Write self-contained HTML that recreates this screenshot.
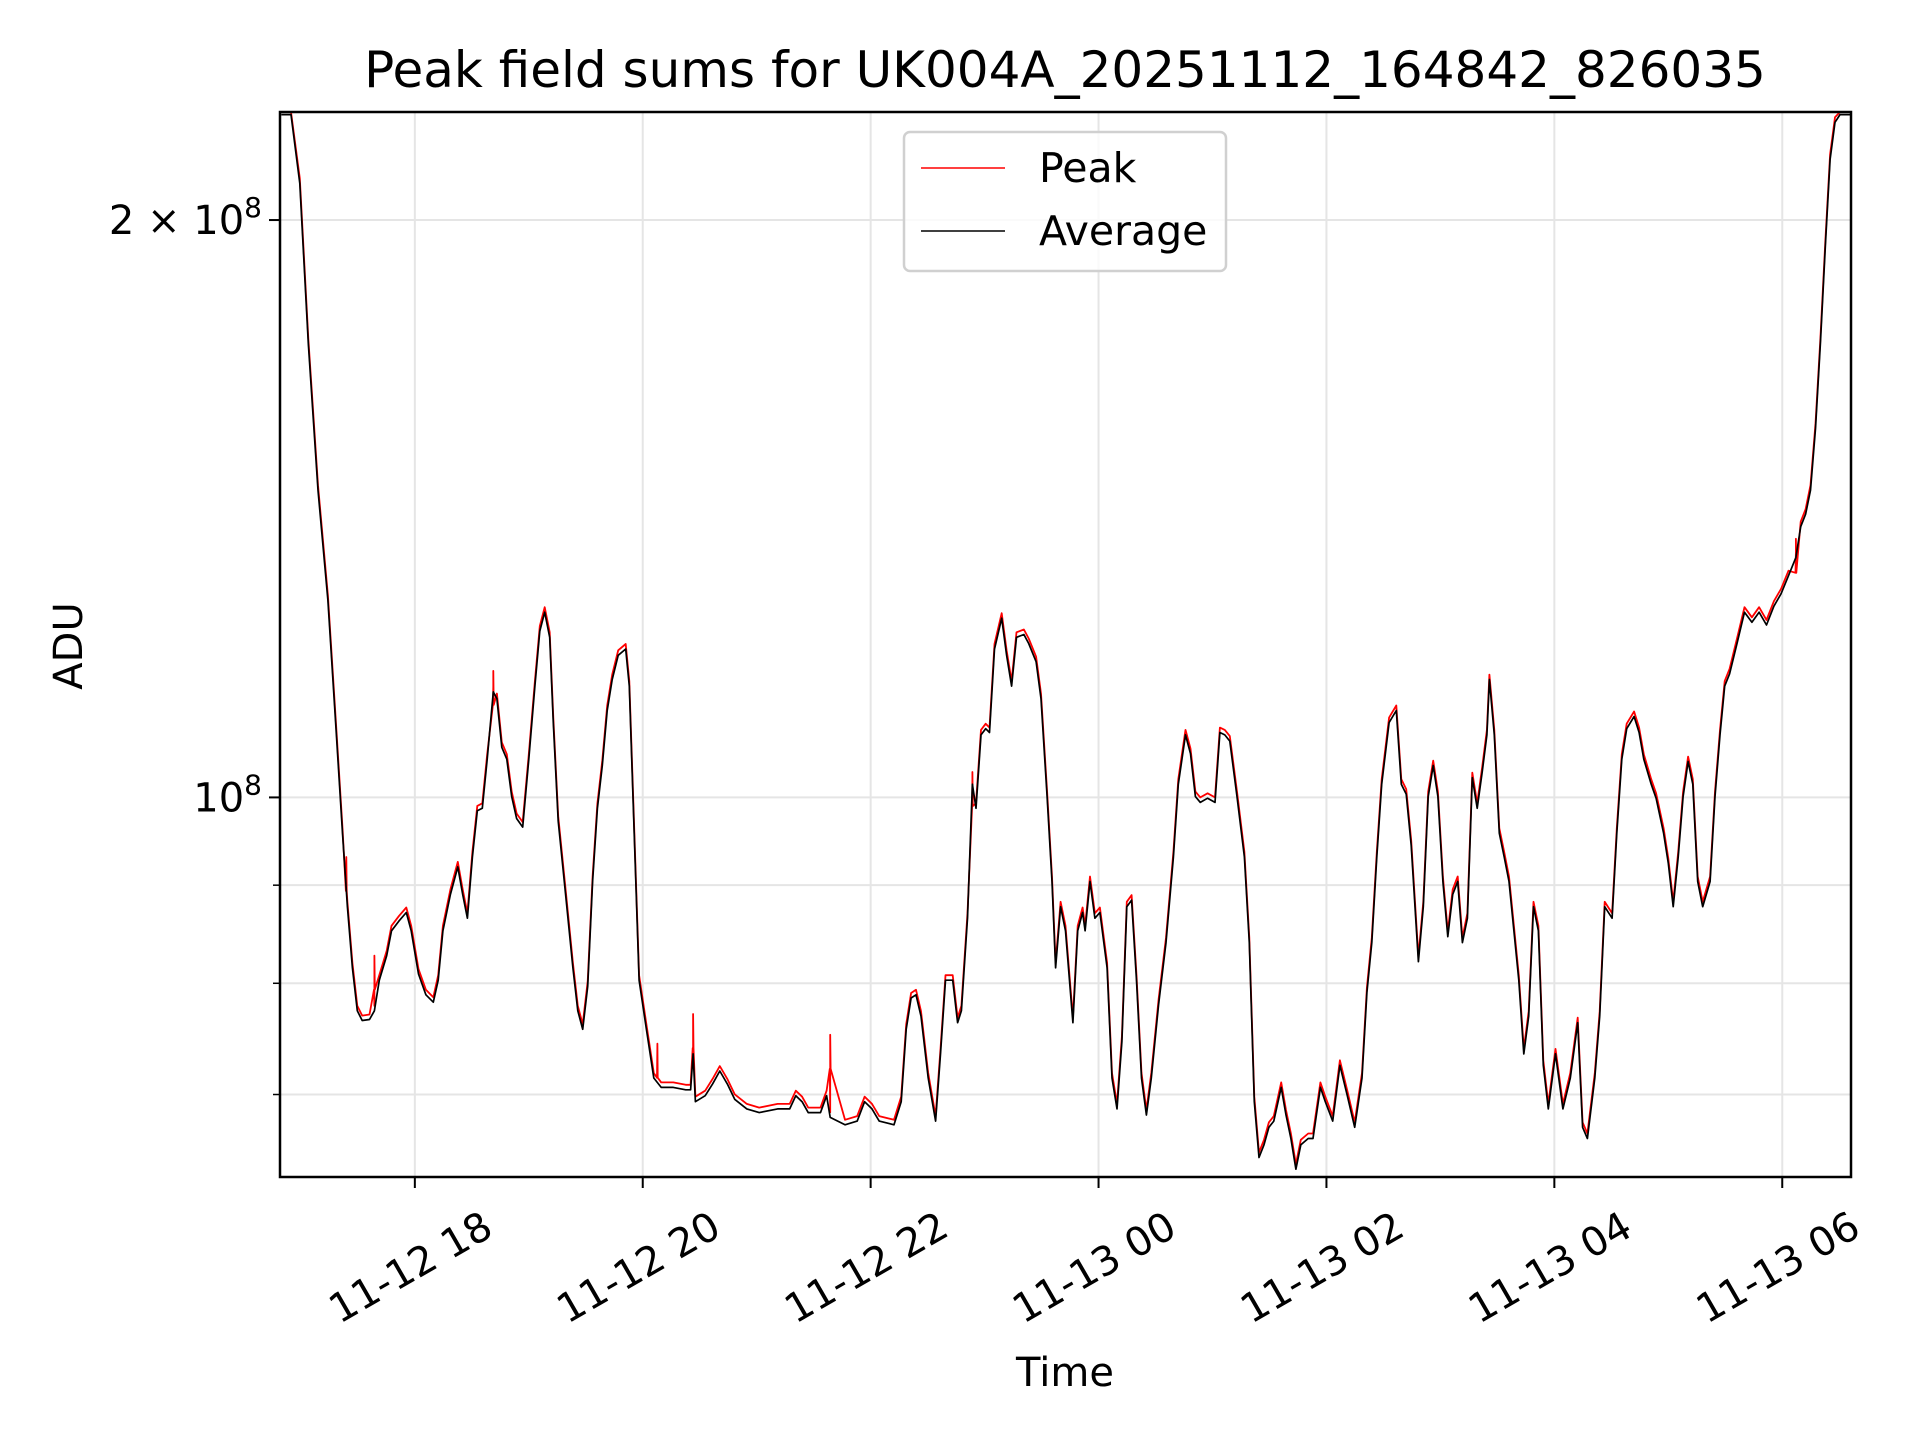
<!DOCTYPE html>
<html><head><meta charset="utf-8"><style>
html,body{margin:0;padding:0;background:#fff;}
svg{display:block;font-family:"DejaVu Sans","Liberation Sans",sans-serif;}
</style></head><body>
<svg id="chart" width="1920" height="1440" viewBox="0 0 1920 1440" xmlns="http://www.w3.org/2000/svg">
<rect width="1920" height="1440" fill="#fff"/>
<g id="grid"></g>
<g id="series"></g>
<g id="axes"></g>
<text x="1065" y="87" font-size="50" text-anchor="middle">Peak field sums for UK004A_20251112_164842_826035</text>
<text x="1065" y="1386" font-size="40" text-anchor="middle">Time</text>
<text x="0" y="0" font-size="40" text-anchor="middle" transform="translate(82,646) rotate(-90)">ADU</text>
<g>
<rect x="904" y="132" width="322" height="139" rx="6" fill="#fff" fill-opacity="0.8" stroke="#d0d0d0" stroke-width="2.5"/>
<line x1="921" y1="168" x2="1005" y2="168" stroke="#ff0000" stroke-width="1.5"/>
<text x="1039" y="182" font-size="41">Peak</text>
<line x1="921" y1="231" x2="1005" y2="231" stroke="#000" stroke-width="1.5"/>
<text x="1039" y="245" font-size="41">Average</text>
</g>
</svg>
<script>
// minutes since 2025-11-12 16:00
const times = [49.7,54.8,59.4,63.9,69.0,74.2,78.7,81.9,84.5,87.1,89.7,92.3,96.1,98.7,101.3,105.2,107.7,111.6,115.5,118.1,121.9,125.8,129.7,132.3,134.8,138.7,142.6,145.2,147.7,150.3,152.9,155.5,158.1,161.3,163.2,165.8,168.4,171.0,173.6,176.8,180.0,183.2,185.8,188.4,191.0,192.9,195.5,199.4,203.2,205.8,208.4,211.0,213.6,216.1,218.7,221.3,223.9,227.1,231.0,232.9,235.5,238.1,241.9,245.8,249.7,256.1,262.6,265.2,266.5,267.7,272.9,276.8,280.6,284.5,288.4,294.8,301.3,311.0,317.4,320.6,323.9,327.1,333.6,336.8,338.7,346.5,352.9,356.8,360.7,364.5,372.3,376.1,378.7,381.3,383.9,386.5,390.3,394.2,396.8,399.4,403.2,405.8,407.8,411.0,413.6,415.5,418.1,420.6,422.6,425.2,429.0,431.6,434.2,436.8,440.7,443.2,447.1,449.7,452.9,455.5,457.4,460.0,462.6,466.5,469.0,471.6,472.9,475.5,478.1,480.7,484.5,487.1,489.7,492.3,494.9,497.4,500.0,502.6,505.2,507.8,511.6,515.5,519.4,522.0,525.8,528.4,531.0,533.6,537.4,541.3,543.9,546.5,549.1,552.9,556.8,559.4,562.0,564.5,567.1,569.7,572.3,576.2,578.7,581.3,583.9,586.5,590.4,592.9,596.8,599.4,603.3,607.1,611.0,614.9,618.7,621.3,623.9,626.5,629.1,633.0,636.8,639.4,642.0,644.6,648.4,651.0,653.6,656.2,658.7,661.3,663.9,666.5,669.1,671.6,674.2,676.8,679.4,682.0,684.5,685.8,688.4,691.0,693.6,696.1,698.7,701.3,703.9,706.5,709.0,711.6,714.2,716.8,720.6,724.5,728.4,732.3,734.9,737.4,741.3,743.9,746.5,750.4,752.9,755.5,758.1,762.0,764.6,767.1,771.0,773.6,777.5,780.0,782.6,785.2,787.8,790.4,792.9,795.5,798.1,802.0,804.6,807.2,809.7,812.3,816.2,820.1,824.0,827.8,831.7,835.6,839.4,843.3,847.2,849.7,852.3,854.9,857.5,860.1,862.7,865.2,867.8,870.4,876.2];
// average ADU in millions
const avgValues = [227,227,209,172.5,144.6,126.7,107.8,95.8,87.7,81.5,77.4,76.5,76.6,77.4,80.3,82.7,85.2,86.2,87.1,85.2,80.9,78.9,78.2,80.3,85.2,89.0,92.0,89.0,86.5,93.1,98.4,98.7,104.7,113.5,112.6,106.2,104.7,100.1,97.5,96.5,104.7,114.3,122.1,124.9,121.2,109.4,97.2,89.0,81.5,77.4,75.7,79.7,90.4,98.7,103.9,111.0,115.2,118.6,119.5,114.3,95.8,80.3,75.7,71.4,70.6,70.6,70.4,70.4,73.5,69.4,69.9,70.9,72.0,70.9,69.6,68.8,68.5,68.8,68.8,69.9,69.4,68.5,68.5,69.9,68.1,67.5,67.8,69.4,68.8,67.8,67.5,69.4,75.7,78.6,78.9,76.9,71.4,67.8,73.5,80.3,80.3,76.3,77.4,86.5,101.6,98.7,107.8,108.6,108.1,119.5,124.0,118.6,114.3,121.2,121.6,120.3,117.7,112.6,100.1,90.4,81.5,87.7,85.2,76.3,85.2,87.1,85.2,90.4,86.5,87.1,81.5,71.4,68.8,74.6,87.7,88.4,80.3,71.4,68.3,71.4,78.0,84.0,93.1,101.6,107.8,105.4,100.1,99.4,99.9,99.4,108.1,107.8,107.0,100.1,93.1,84.0,69.4,64.9,65.9,67.3,67.8,70.6,68.3,66.4,64.0,65.9,66.4,66.4,70.6,69.4,67.8,72.5,69.9,67.3,71.4,79.1,84.0,93.1,101.6,109.4,111.0,101.6,100.4,94.4,82.1,87.7,100.1,103.9,100.1,90.4,84.6,89.0,90.4,84.0,86.5,102.4,98.7,103.1,107.8,115.2,107.8,95.8,93.1,90.4,85.2,80.3,73.5,76.9,87.7,85.2,72.5,68.8,73.5,68.8,71.4,76.3,67.3,66.4,71.4,76.9,87.7,86.5,95.8,104.7,108.6,110.2,108.1,104.7,101.6,99.9,95.8,92.4,87.7,93.1,100.1,104.4,101.6,90.4,87.7,90.4,100.1,107.8,114.3,116.0,120.3,124.9,123.4,124.9,123.0,125.8,127.7,130.5,133.4,138.4,140.5,144.6,155.7,172.5,194.1,215.1,224.9,227,227];
// extra peak spikes (minutes, millions)
const spikeTimes = [83.9,98.7,161.3,247.7,266.5,338.7,413.6,847.2];
const spikeValues = [93.1,82.7,116.4,74.4,77.1,75.2,103.1,136.4];
const xTickMinutes = [120,240,360,480,600,720,840];
const xTickLabels = ["11-12 18","11-12 20","11-12 22","11-13 00","11-13 02","11-13 04","11-13 06"];
const yMajorValues = [100,200];
const yMinorValues = [70,80,90];

const NS="http://www.w3.org/2000/svg";
const L=280,R=1851,T=112,B=1177;
const tMin=49.0,tMax=876.2,logMin=Math.log10(63.4),logMax=Math.log10(227.7);
function xs(m){return L+(m-tMin)/(tMax-tMin)*(R-L);}
function ys(v){return B-(Math.log10(v)-logMin)/(logMax-logMin)*(B-T);}
function mk(tag,attrs,parent){const e=document.createElementNS(NS,tag);for(const k in attrs)e.setAttribute(k,attrs[k]);parent.appendChild(e);return e;}
const grid=document.getElementById('grid'),series=document.getElementById('series'),axes=document.getElementById('axes');

xTickMinutes.forEach((m,i)=>{
  const x=xs(m);
  const g=mk('line',{x1:x,x2:x,y1:T,y2:B,stroke:'#e5e5e5','stroke-width':2},grid);
  
  
  const t=mk('line',{x1:x,x2:x,y1:B,y2:B+11,stroke:'#000','stroke-width':2},axes);
  
  
  const lb=mk('text',{x:0,y:0,'font-size':40,'text-anchor':'middle','dominant-baseline':'central',transform:`translate(${x-4},1268) rotate(-30)`},axes);
  lb.textContent=xTickLabels[i];
  
  
});
yMinorValues.concat(yMajorValues).forEach(v=>{
  const y=ys(v);
  const g=mk('line',{x1:L,x2:R,y1:y,y2:y,stroke:'#e5e5e5','stroke-width':2},grid);
  
  
  const major=yMajorValues.includes(v);
  const t=mk('line',{x1:L-(major?11:7),x2:L,y1:y,y2:y,stroke:'#000','stroke-width':major?2:1.5},axes);
  
  
});
const l1=mk('text',{x:262,y:ys(200)+14,'font-size':40,'text-anchor':'end'},axes);
l1.innerHTML='2 \u00d7 10<tspan font-size="28" dy="-17">8</tspan>';


const l2=mk('text',{x:262,y:ys(100)+14,'font-size':40,'text-anchor':'end'},axes);
l2.innerHTML='10<tspan font-size="28" dy="-17">8</tspan>';



const pk=times.map((t,i)=>[t,avgValues[i]*1.006]);
spikeTimes.forEach((t,i)=>{pk.push([t-0.2,spikeValues[i]*0.96]);pk.push([t,spikeValues[i]]);pk.push([t+0.2,spikeValues[i]*0.96]);});
pk.sort((a,b)=>a[0]-b[0]);
const clampY=v=>Math.max(T,Math.min(B,ys(v)));
const pd=pk.map((p,i)=>(i?'L':'M')+xs(p[0]).toFixed(1)+','+clampY(p[1]).toFixed(1)).join('');
const peakLine=mk('path',{d:pd,fill:'none',stroke:'#ff0000','stroke-width':1.8,'stroke-linejoin':'round'},series);


const ad=times.map((t,i)=>(i?'L':'M')+xs(t).toFixed(1)+','+clampY(avgValues[i]).toFixed(1)).join('');
const avgLine=mk('path',{d:ad,fill:'none',stroke:'#000','stroke-width':1.7,'stroke-linejoin':'round'},series);



const frame=mk('rect',{x:L,y:T,width:R-L,height:B-T,fill:'none',stroke:'#000','stroke-width':2.5},axes);


</script>
</body></html>
